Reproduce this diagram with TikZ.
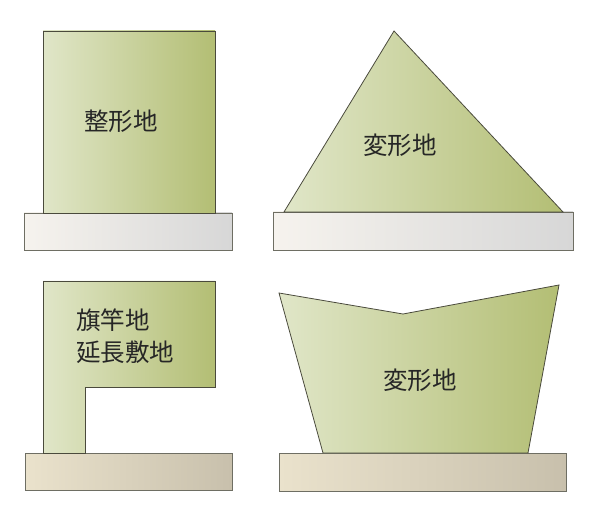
\documentclass[tikz,border=0pt]{standalone}
\usepackage{fontspec}
\newfontfamily\cjk{Noto Sans CJK JP}
\definecolor{gL}{HTML}{E0E6C8}
\definecolor{gR}{HTML}{B3BE74}
\definecolor{rL}{HTML}{F6F3EE}
\definecolor{rR}{HTML}{D7D7D7}
\definecolor{bL}{HTML}{EAE2CC}
\definecolor{bR}{HTML}{C8C0AC}
\definecolor{edge}{HTML}{4A4A3C}
\tikzset{
  lot/.style={draw=edge, line width=0.8pt, left color=gL, right color=gR, line join=miter},
  road/.style={draw=edge!80, line width=0.8pt, left color=rL, right color=rR},
  road2/.style={draw=edge!80, line width=0.8pt, left color=bL, right color=bR},
  lbl/.style={font=\cjk\fontsize{24.5}{32}\selectfont, text=black!85, inner sep=0pt}
}
\begin{document}
\begin{tikzpicture}[x=1pt,y=-1pt]
\useasboundingbox (0,0) rectangle (589,521);
% top-left
\draw[road] (24,213) rectangle (232,250);
\draw[lot] (43,31) rectangle (215,213);
\node[lbl] (t1) at (121,121) {整形地};
% top-right
\draw[road] (273,212) rectangle (573,250);
\draw[lot] (394,31) -- (563,212) -- (284,212) -- cycle;
\node[lbl] (t2) at (400,145) {変形地};
% bottom-left
\draw[road2] (25,453) rectangle (232,490);
\draw[lot] (43,281) -- (215,281) -- (215,387) -- (85,387) -- (85,453) -- (43,453) -- cycle;
\node[lbl, align=left, anchor=west] (t3) at (76,336) {旗竿地\\延長敷地};
% bottom-right
\draw[road2] (279,453) rectangle (566,491);
\draw[lot] (279,293) -- (403,314) -- (559,285) -- (528,453) -- (323,453) -- cycle;
\node[lbl] (t4) at (420,380) {変形地};
\end{tikzpicture}
\end{document}
